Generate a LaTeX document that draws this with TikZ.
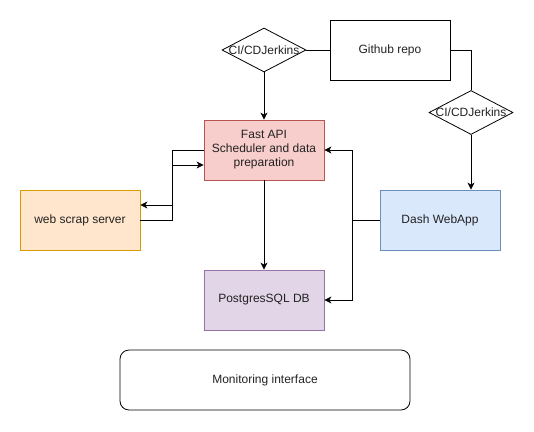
\documentclass[tikz,border=0pt]{standalone}
\usepackage{fontspec}
\setmainfont{Liberation Sans}
\usetikzlibrary{shapes.geometric,arrows.meta}
\definecolor{redfill}{HTML}{F8CECC}\definecolor{redline}{HTML}{B85450}
\definecolor{orfill}{HTML}{FFE6CC}\definecolor{orline}{HTML}{D79B00}
\definecolor{blfill}{HTML}{DAE8FC}\definecolor{blline}{HTML}{6C8EBF}
\definecolor{pufill}{HTML}{E1D5E7}\definecolor{puline}{HTML}{9673A6}
\definecolor{txt}{HTML}{222222}
\tikzset{
  box/.style={draw, line width=0.8pt, minimum width=120pt, minimum height=60pt, inner sep=0pt, align=center, font=\fontsize{12pt}{14pt}\selectfont, text=txt},
  dia/.style={draw, line width=0.8pt, diamond, minimum width=84pt, minimum height=44pt, inner sep=0pt, font=\fontsize{12pt}{14pt}\selectfont, text=txt},
  conn/.style={line width=0.8pt},
  arr/.style={conn, -{Stealth[length=7pt,width=7pt,inset=2pt]}}
}
\begin{document}
\begin{tikzpicture}[x=1pt,y=-1pt]
\useasboundingbox (0,0) rectangle (534,431);
\node[dia] (d1) at (264,50) {\makebox[0pt]{CI/CDJerkins}};
\node[box, minimum width=120pt] (gh) at (390,50) {Github repo};
\node[dia] (d2) at (471,112.5) {\makebox[0pt]{CI/CDJerkins}};
\node[box, fill=redfill, draw=redline] (api) at (264,150) {Fast API\\Scheduler and data\\preparation};
\node[box, fill=orfill, draw=orline] (ws) at (80,220) {web scrap server};
\node[box, fill=blfill, draw=blline] (dash) at (440,220) {Dash WebApp};
\node[box, fill=pufill, draw=puline] (pg) at (264,300) {PostgresSQL DB};
\node[box, rounded corners=9pt, minimum width=290pt] (mon) at (265,380) {Monitoring interface};
\coordinate (lx) at (172,0);
\coordinate (rx) at (352,0);
\draw[conn] (d1.east) -- (gh.west);
\draw[arr] (d1.south) -- (api.north);
\draw[conn] (gh.east) -| (d2.north);
\draw[arr] (d2.south) -- (d2.south |- dash.north);
\draw[arr] (api.south) -- (pg.north);
\draw[arr] (api.west) -| (lx |- 0,205) -- (ws.east |- 0,205);
\draw[arr] (ws.east) -| (lx |- 0,165) -- (api.west |- 0,165);
\draw[arr] (dash.west) -| (rx |- api.east) -- (api.east);
\draw[arr] (dash.west) -| (rx |- pg.east) -- (pg.east);
\end{tikzpicture}
\end{document}
